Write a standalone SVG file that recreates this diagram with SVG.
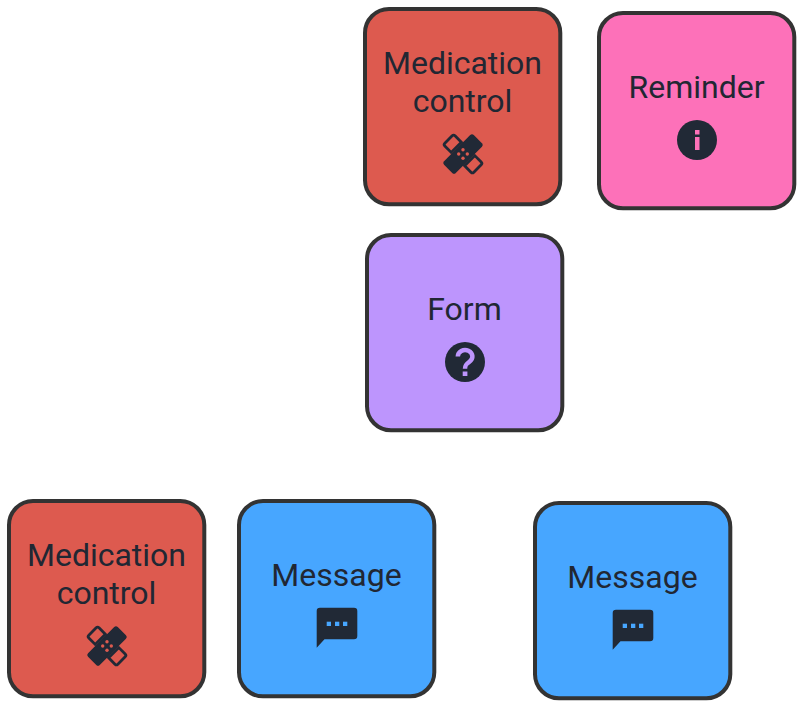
<svg xmlns="http://www.w3.org/2000/svg" width="808" height="714" viewBox="0 0 808 714">
<style>
.box{stroke:#333333;stroke-width:4}
.t{font-family:Roboto,"Liberation Sans",sans-serif;font-size:32px;fill:#212733;text-anchor:middle}
.i{fill:#212936}
.red{fill:#dd5a4f}.pink{fill:#fd71b9}.purple{fill:#bd95fd}.blue{fill:#47a6ff}
</style>
<defs>
<g id="band">
<rect x="-21" y="-8.300" width="42" height="16.600" rx="2.500" class="i" transform="rotate(-45)"/>
<g transform="rotate(45)" fill="none" stroke="#212936" stroke-width="2.800">
<path d="M-9.500-7.200h-9a2 2 0 0 0-2 2v10.400a2 2 0 0 0 2 2h9z"/>
<path d="M9.500-7.200h9a2 2 0 0 1 2 2v10.400a2 2 0 0 1-2 2h-9z"/>
</g>
</g>
<g id="chat">
<path d="M-20.300-16a3.300 3.300 0 0 1 3.300-3.300h34a3.300 3.300 0 0 1 3.300 3.300v25a3.300 3.300 0 0 1-3.300 3.300h-29.500l-7.800 8.400z" class="i"/>
</g>
</defs>
<g id="node-medication-top">
<rect class="box red" x="365" y="9" width="195.300" height="195.300" rx="24"/>
<text class="t" x="462.500" y="74">Medication</text>
<text class="t" x="462.500" y="112">control</text>
<g transform="translate(463 154)"><use href="#band"/><g class="red"><circle cx="0" cy="-4.300" r="1.700"/><circle cx="-4.300" cy="0" r="1.700"/><circle cx="4.300" cy="0" r="1.700"/><circle cx="0" cy="4.300" r="1.700"/></g></g>
</g>
<g id="node-reminder">
<rect class="box pink" x="599" y="13" width="195.300" height="195.300" rx="24"/>
<text class="t" x="696.500" y="98">Reminder</text>
<circle class="i" cx="697" cy="140" r="20"/>
<rect class="pink" x="695" y="130" width="4.500" height="4.500"/>
<rect class="pink" x="695" y="137" width="4.500" height="13"/>
</g>
<g id="node-form">
<rect class="box purple" x="367" y="235" width="195.300" height="195.300" rx="24"/>
<text class="t" x="464.500" y="320">Form</text>
<circle class="i" cx="465" cy="362" r="20"/>
<path d="M457.800 356.500a7.300 6.500 0 1 1 11.500 5.300c-2.700 1.800-4.300 3-4.300 7" fill="none" stroke="#bd95fd" stroke-width="4.500"/>
<rect class="purple" x="462.700" y="371.500" width="4.700" height="4.500"/>
</g>
<g id="node-medication-bottom">
<rect class="box red" x="9" y="501" width="195.300" height="195.300" rx="24"/>
<text class="t" x="106.500" y="566">Medication</text>
<text class="t" x="106.500" y="604">control</text>
<g transform="translate(107 646)"><use href="#band"/><g class="red"><circle cx="0" cy="-4.300" r="1.700"/><circle cx="-4.300" cy="0" r="1.700"/><circle cx="4.300" cy="0" r="1.700"/><circle cx="0" cy="4.300" r="1.700"/></g></g>
</g>
<g id="node-message-left">
<rect class="box blue" x="239" y="501" width="195.300" height="195.300" rx="24"/>
<text class="t" x="336.500" y="586">Message</text>
<g transform="translate(337 627)"><use href="#chat"/><g class="blue"><rect x="-10.300" y="-5.300" width="4.300" height="4.300"/><rect x="-2" y="-5.300" width="4.300" height="4.300"/><rect x="6" y="-5.300" width="4.300" height="4.300"/></g></g>
</g>
<g id="node-message-right">
<rect class="box blue" x="535" y="503" width="195.300" height="195.300" rx="24"/>
<text class="t" x="632.500" y="588">Message</text>
<g transform="translate(633 629)"><use href="#chat"/><g class="blue"><rect x="-10.300" y="-5.300" width="4.300" height="4.300"/><rect x="-2" y="-5.300" width="4.300" height="4.300"/><rect x="6" y="-5.300" width="4.300" height="4.300"/></g></g>
</g>
<g id="connectors"></g>
</svg>
